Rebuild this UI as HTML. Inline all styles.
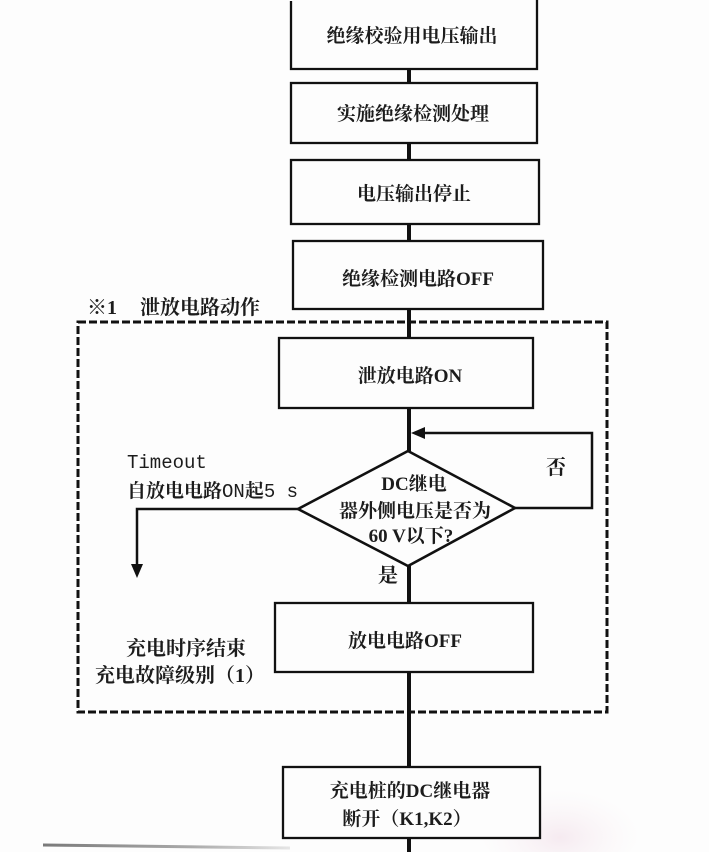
<!DOCTYPE html>
<html>
<head>
<meta charset="utf-8">
<style>
  html,body{margin:0;padding:0;background:#fff;}
  body{width:709px;height:852px;overflow:hidden;}
  svg{display:block;}
  .t{font-family:"Liberation Serif","Noto Serif CJK SC","Noto Sans CJK SC",serif;font-weight:bold;fill:#1c1c1c;}
  .m{font-family:"Liberation Mono","Noto Serif CJK SC","Noto Sans CJK SC",monospace;fill:#1c1c1c;font-weight:normal;}
  .cb{font-family:"Noto Serif CJK SC","Noto Sans CJK SC",serif;font-weight:bold;}
</style>
</head>
<body>
<svg width="709" height="852" viewBox="0 0 709 852" xmlns="http://www.w3.org/2000/svg">
  <defs>
    <radialGradient id="pink" cx="0.5" cy="0.6" r="0.5">
      <stop offset="0" stop-color="#ecd3e0" stop-opacity="0.45"/>
      <stop offset="1" stop-color="#f6e8ef" stop-opacity="0"/>
    </radialGradient>
    <linearGradient id="gl" x1="0" x2="1" y1="0" y2="0">
      <stop offset="0" stop-color="#7a7a7a"/>
      <stop offset="0.6" stop-color="#aaaaaa"/>
      <stop offset="1" stop-color="#e6e6e6"/>
    </linearGradient>
  </defs>
  <rect x="0" y="0" width="709" height="852" fill="#fdfdfd"/>

  <ellipse cx="560" cy="828" rx="80" ry="48" fill="url(#pink)"/>
  <path d="M43,845 L290,848" stroke="url(#gl)" stroke-width="3" fill="none"/>

  <g stroke="#111" stroke-width="4" fill="none">
    <line x1="409" y1="69" x2="409" y2="83"/>
    <line x1="409" y1="143" x2="409" y2="160"/>
    <line x1="409" y1="224" x2="409" y2="241"/>
    <line x1="409" y1="309" x2="409" y2="338"/>
    <line x1="409" y1="408" x2="409" y2="452"/>
    <line x1="409" y1="566" x2="409" y2="603"/>
    <line x1="409" y1="672" x2="409" y2="767"/>
    <line x1="409" y1="838" x2="409" y2="852"/>
  </g>

  <g stroke="#111" stroke-width="2.3" fill="#fdfdfd">
    <path d="M291,1 V69 H537 V0" fill="none"/>
    <rect x="291" y="83" width="246" height="60"/>
    <rect x="291" y="160" width="248" height="64"/>
    <rect x="293" y="241" width="250" height="68"/>
    <rect x="279" y="338" width="254" height="70"/>
    <rect x="275" y="603" width="258" height="69"/>
    <rect x="283" y="767" width="257" height="71"/>
  </g>

  <rect x="78" y="322" width="529" height="390" fill="none" stroke="#111" stroke-width="3" stroke-dasharray="8 3"/>
  <line x1="409" y1="318" x2="409" y2="338" stroke="#111" stroke-width="4"/>
  <line x1="409" y1="700" x2="409" y2="720" stroke="#111" stroke-width="4"/>

  <polygon points="408,451 515,508 408,566 298,509" fill="#fdfdfd" stroke="#111" stroke-width="2.6"/>

  <polyline points="515,508 592,508 592,433 420,433" fill="none" stroke="#111" stroke-width="2.5"/>
  <polygon points="411,433 425,427 425,439" fill="#111"/>

  <polyline points="298,509 137,509 137,566" fill="none" stroke="#111" stroke-width="2.5"/>
  <polygon points="137,578 131,564 143,564" fill="#111"/>

  <g class="t" font-size="19" text-anchor="middle">
    <text x="412" y="42">绝缘校验用电压输出</text>
    <text x="413" y="120">实施绝缘检测处理</text>
    <text x="414" y="200">电压输出停止</text>
    <text x="418" y="285">绝缘检测电路OFF</text>
    <text x="410" y="382">泄放电路ON</text>
    <text x="405" y="647">放电电路OFF</text>
    <text x="410" y="797">充电桩的DC继电器</text>
    <text x="407" y="825">断开（K1,K2）</text>
  </g>

  <g class="t" font-size="19" text-anchor="middle">
    <text x="414" y="490">DC继电</text>
    <text x="415" y="517">器外侧电压是否为</text>
    <text x="411" y="542">60 V以下?</text>
  </g>

  <g class="t" font-size="20">
    <text x="87" y="314">※1</text>
    <text x="140" y="314">泄放电路动作</text>
  </g>

  <g class="t" font-size="20" text-anchor="middle">
    <text x="556" y="474">否</text>
    <text x="388" y="582">是</text>
  </g>
  <g class="m" font-size="19">
    <text x="127" y="468">Timeout</text>
    <text x="127" y="497"><tspan class="cb">自放电电路</tspan>ON<tspan class="cb">起</tspan>5 s</text>
  </g>

  <g class="t" font-size="20">
    <text x="186" y="655" text-anchor="middle">充电时序结束</text>
    <text x="95" y="682">充电故障级别（1）</text>
  </g>
</svg>
</body>
</html>
